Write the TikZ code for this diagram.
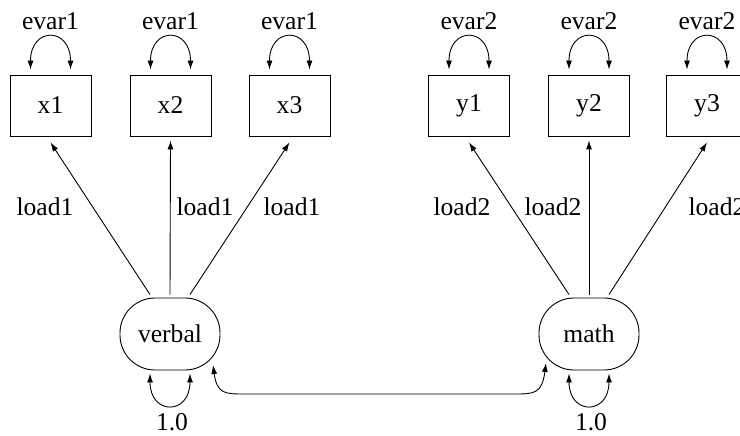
\documentclass[tikz,border=0pt]{standalone}
\usepackage{fontspec}
\setmainfont{Liberation Serif}
\usetikzlibrary{arrows.meta}
\begin{document}
\begin{tikzpicture}[x=1pt,y=-1pt, font=\fontsize{25.6}{30}\selectfont, line width=0.9pt,
 obs/.style={draw, minimum width=81pt, minimum height=61pt, inner sep=0pt},
 lat/.style={draw, rounded corners=35pt, minimum width=100pt, minimum height=72pt, inner sep=0pt},
 lbl/.style={anchor=base, inner sep=0pt},
 arr/.style={-{Latex[length=9pt,width=6pt]}},
 dbl/.style={{Latex[length=9pt,width=6pt]}-{Latex[length=9pt,width=6pt]}}]
\clip (0,0) rectangle (740,436);
% observed
\node[obs] (x1) at (50.5,105.5) {x1};
\node[obs] (x2) at (170.5,105.5) {x2};
\node[obs] (x3) at (289.5,105.5) {x3};
\node[obs] (y1) at (469,105.5) {y1};
\node[obs] (y2) at (589,105.5) {y2};
\node[obs] (y3) at (707,105.5) {y3};
% latent
\node[lat] (verbal) at (170,334) {verbal};
\node[lat] (math) at (589,334) {math};
% error variance labels
\node[lbl] (e1) at (50.5,30) {evar1};
\node[lbl] (e2) at (170.5,30) {evar1};
\node[lbl] (e3) at (289.5,30) {evar1};
\node[lbl] (e4) at (469,30) {evar2};
\node[lbl] (e5) at (589,30) {evar2};
\node[lbl] (e6) at (707,30) {evar2};
% error variance loops
\foreach \n in {x1,x2,x3,y1,y2,y3}{
  \draw[dbl] ([xshift=-20pt,yshift=5pt]\n.north) .. controls +(0,-43) and +(0,-43) .. ([xshift=20pt,yshift=5pt]\n.north);
}
% latent variance loops
\foreach \n in {verbal,math}{
  \draw[dbl] ([xshift=-20pt,yshift=-3pt]\n.south) .. controls +(0,42) and +(0,42) .. ([xshift=20pt,yshift=-3pt]\n.south);
}
\node[lbl] (v1) at (172,430) {1.0};
\node[lbl] (v2) at (591,430) {1.0};
% loadings
\draw[arr] ([xshift=-20pt,yshift=3pt]verbal.north) -- ([yshift=-6pt]x1.south);
\draw[arr] ([yshift=3pt]verbal.north) -- ([yshift=-4pt]x2.south);
\draw[arr] ([xshift=20pt,yshift=3pt]verbal.north) -- ([yshift=-6pt]x3.south);
\draw[arr] ([xshift=-20pt,yshift=3pt]math.north) -- ([yshift=-6pt]y1.south);
\draw[arr] ([yshift=3pt]math.north) -- ([yshift=-4pt]y2.south);
\draw[arr] ([xshift=20pt,yshift=3pt]math.north) -- ([yshift=-6pt]y3.south);
\node[lbl] (l1) at (45,215) {load1};
\node[lbl] (l2) at (205,215) {load1};
\node[lbl] (l3) at (292,215) {load1};
\node[lbl] (l4) at (462,215) {load2};
\node[lbl] (l5) at (553,215) {load2};
\node[lbl] (l6) at (717,215) {load2};
% covariance
\coordinate (vt) at ([xshift=43pt,yshift=-31pt]verbal.center);
\coordinate (mt) at ([xshift=-43pt,yshift=-29pt]math.center);
\draw[dbl] (vt) .. controls +(4,29) and +(-20,0) .. ++(32,29) -- ++(269,0) .. controls +(20,0) and +(-4,31) .. (mt);
\end{tikzpicture}
\end{document}
